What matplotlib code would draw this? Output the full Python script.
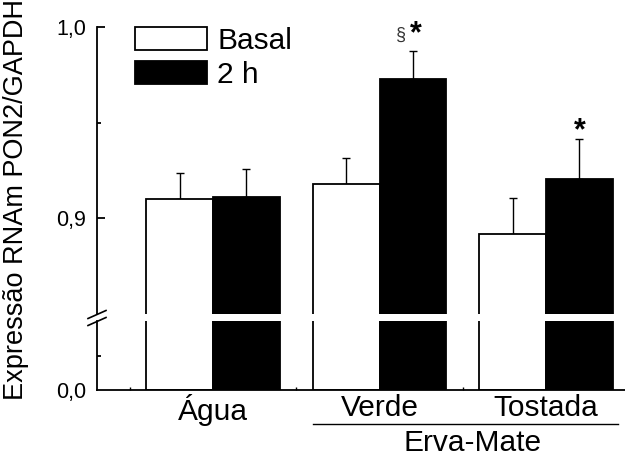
import matplotlib
matplotlib.use('Agg')
import matplotlib.pyplot as plt
import matplotlib.transforms as mtransforms
from matplotlib.patches import Patch
from matplotlib.lines import Line2D
import numpy as np

plt.rcParams['font.family'] = ['Liberation Sans', 'DejaVu Sans']

# ---- data ----
categories = ['Água', 'Verde', 'Tostada']
group_label = 'Erva-Mate'
series_names = ['Basal', '2 h']
basal = [0.910, 0.918, 0.892]
basal_err = [0.0137, 0.0137, 0.0184]
h2 = [0.911, 0.973, 0.9205]
h2_err = [0.015, 0.0147, 0.021]
sig_section = ['', '§', '']
sig_star = ['', '*', '*']
upper_ticks = [0.9, 1.0]
upper_tick_labels = ['0,9', '1,0']
lower_ticks = [0.0]
lower_tick_labels = ['0,0']
ylabel = 'Expressão RNAm PON2/GAPDH'

# ---- figure ----
W, H = 625, 457
fig = plt.figure(figsize=(W / 100, H / 100), dpi=100)
left = 97 / W
ax_up = fig.add_axes([left, 1 - 314 / H, 1 - left, (314 - 27) / H])
ax_lo = fig.add_axes([left, 1 - 390 / H, 1 - left, (390 - 321) / H])

x = np.arange(1, len(categories) + 1)
w = 0.4
lw = 1.3
for ax in (ax_up, ax_lo):
    ax.bar(x - w / 2, basal, w, color='white', edgecolor='black', linewidth=lw, zorder=2)
    ax.bar(x + w / 2, h2, w, color='black', edgecolor='black', linewidth=lw, zorder=2)
    ax.set_xlim(0.3033, 3.474)
    ax.spines['top'].set_visible(False)
    ax.spines['right'].set_visible(False)
    ax.spines['left'].set_linewidth(lw)
    ax.spines['bottom'].set_linewidth(lw)

zeros = np.zeros(len(categories))
ax_up.errorbar(x - w / 2, basal, yerr=[zeros, basal_err], fmt='none', ecolor='black',
               elinewidth=1.0, capsize=3, capthick=1.0, zorder=1)
ax_up.errorbar(x + w / 2, h2, yerr=[zeros, h2_err], fmt='none', ecolor='black',
               elinewidth=1.0, capsize=3, capthick=1.0, zorder=1)

ax_up.set_ylim(0.85, 1.0)
ax_lo.set_ylim(0.0, 0.2)
ax_up.spines['bottom'].set_visible(False)
ax_up.tick_params(axis='x', which='both', bottom=False, labelbottom=False)

ax_up.set_yticks(upper_ticks, upper_tick_labels)
ax_up.set_yticks([0.95], minor=True)
ax_up.tick_params(axis='y', which='major', direction='in', length=6, width=lw, labelsize=15.5, pad=8)
ax_up.tick_params(axis='y', which='minor', direction='in', length=3, width=lw)

ax_lo.set_yticks(lower_ticks, lower_tick_labels)
ax_lo.set_yticks([0.1], minor=True)
ax_lo.tick_params(axis='y', which='major', direction='in', length=0, labelsize=15.5, pad=8)
ax_lo.tick_params(axis='y', which='minor', direction='in', length=3, width=lw)

ax_lo.set_xticks(x, categories)
ax_lo.set_xticks([0.5, 1.5, 2.5], minor=True)
ax_lo.tick_params(axis='x', which='major', length=0, labelsize=21.5, pad=3)
ax_lo.tick_params(axis='x', which='minor', direction='in', length=2, width=1)

# significance marks
for i in range(len(categories)):
    top = h2[i] + h2_err[i]
    if sig_section[i]:
        ax_up.annotate(sig_section[i], (x[i] + w / 2, top), xytext=(-5, 5),
                       textcoords='offset points', ha='right', va='bottom',
                       fontsize=13, color='#333333')
    if sig_star[i]:
        dy = 1 if sig_section[i] else -5
        ax_up.annotate(sig_star[i], (x[i] + w / 2, top), xytext=(2 if sig_section[i] else 0, dy),
                       textcoords='offset points', ha='center', va='bottom',
                       fontsize=22, fontweight='bold')

# legend
handles = [Patch(facecolor='white', edgecolor='black', linewidth=lw),
           Patch(facecolor='black', edgecolor='black', linewidth=lw)]
ax_up.legend(handles, series_names, loc='upper left', bbox_to_anchor=(135 / W, 1 - 27 / H),
             bbox_transform=fig.transFigure, frameon=False, fontsize=21.5,
             handlelength=2.4, handleheight=0.8, handletextpad=0.35,
             labelspacing=0.2, borderpad=0, borderaxespad=0)

# group line and label
tr = mtransforms.blended_transform_factory(ax_lo.transData, fig.transFigure)
ax_lo.add_line(Line2D([1.6, 3.43], [1 - 424 / H, 1 - 424 / H], transform=tr,
                      color='black', linewidth=1.0, clip_on=False))
ax_lo.text(2.556, 1 - 443 / H, group_label, transform=tr, ha='center', va='center',
           fontsize=21.5)

# axis break marks
for yc in (314.5, 321.5):
    fig.add_artist(Line2D([88 / W, 106 / W], [1 - (yc + 4) / H, 1 - (yc - 4) / H],
                          color='black', linewidth=1.2))

fig.text(16 / W, 1 - 200 / H, ylabel, rotation=90, ha='center', va='center', fontsize=19.5)

fig.savefig('out.png', dpi=100)
